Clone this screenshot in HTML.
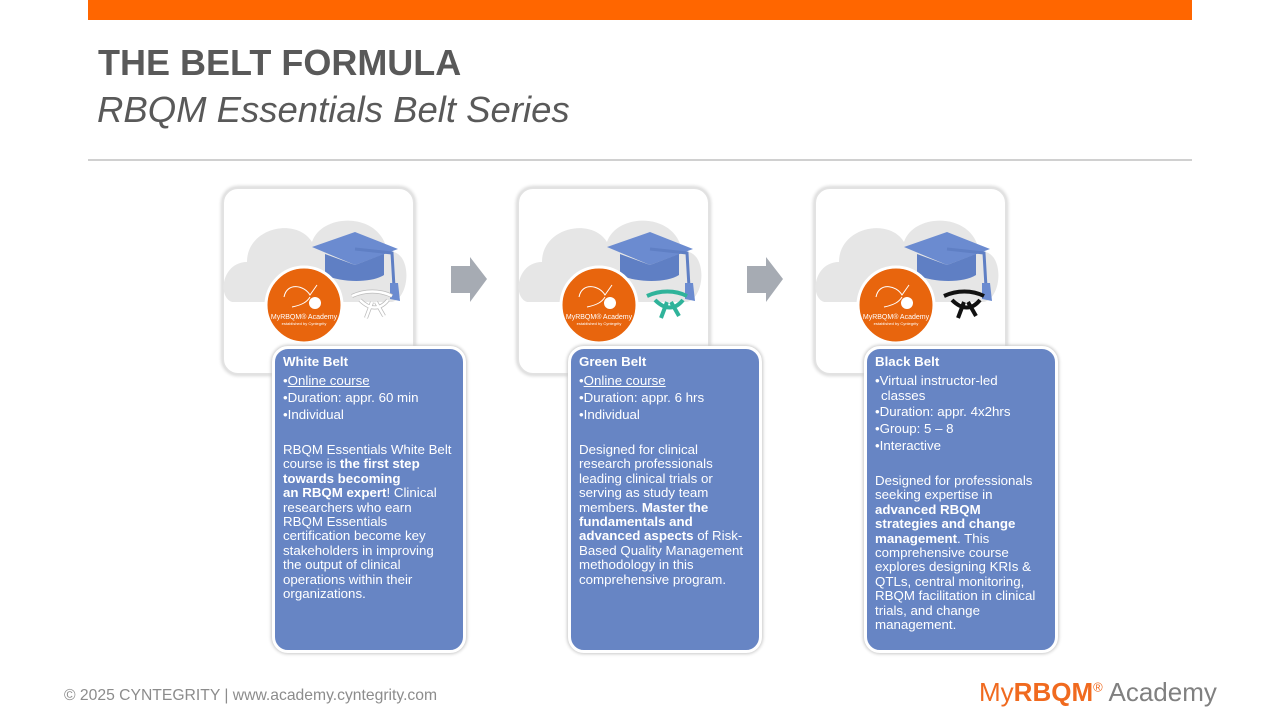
<!DOCTYPE html>
<html><head><meta charset="utf-8"><style>
*{margin:0;padding:0;box-sizing:border-box}
body{width:1280px;height:720px;background:#fff;position:relative;overflow:hidden;font-family:"Liberation Sans",sans-serif}
.bar{position:absolute;left:88px;top:0;width:1104px;height:20px;background:#ff6600}
.t1{position:absolute;left:98px;top:42px;font-size:36px;font-weight:bold;color:#595959;letter-spacing:0px}
.t2{position:absolute;left:97px;top:89px;font-size:36.5px;font-style:italic;color:#595959}
.hr{position:absolute;left:88px;top:159px;width:1104px;height:2px;background:#d0d0d0}
.top{position:absolute;width:193px;height:188px;border-radius:16px;background:#fff;border:2px solid #e2e2e2;box-shadow:0 0 3px 1px #d8d8d8}
.blue{position:absolute;width:194px;height:307px;border-radius:16px;background:#6785c4;border:3px solid #fff;box-shadow:0 0 3px 1px #c8c8c8;color:#fff;font-size:13.3px;padding:4px 0 0 8px}
.blue h4{font-size:13.3px;font-weight:bold;line-height:18px;margin-bottom:1px}
.blue .b{line-height:17px;white-space:nowrap}
.blue .p{line-height:14.4px;white-space:nowrap;margin-top:20px}
.foot{position:absolute;left:64px;top:687px;font-size:15.7px;color:#8c8c8c}
.logo{position:absolute;left:979px;top:677px;font-size:26px;color:#808080;white-space:nowrap}
.logo span{color:#f06a1f}
</style></head><body>
<div class="bar"></div>
<div class="t1">THE BELT FORMULA</div>
<div class="t2">RBQM Essentials Belt Series</div>
<div class="hr"></div>

<div class="top" style="left:222px;top:187px"></div>
<div class="top" style="left:517px;top:187px"></div>
<div class="top" style="left:814px;top:187px"></div>

<svg width="1280" height="720" style="position:absolute;left:0;top:0">
<defs>
<g id="ic">
<path d="M10 115 C-5 110 0 75 25 75 C25 40 75 30 90 55 C100 25 160 25 165 65 C190 60 190 110 170 115 Z" fill="#e6e6e6"/>
<polygon points="90,60 133,45 176,62 133,78" fill="#6b8bd0"/>
<path d="M103 67 L103 88 C120 96 150 96 162 88 L162 67 L133 78 Z" fill="#5f7fc4"/>
<path d="M133 62 L170 66 L172 100" stroke="#5f7fc4" stroke-width="3" fill="none"/>
<polygon points="168,96 176,96 178,114 168,112" fill="#6b8bd0"/>
<circle cx="82" cy="118" r="38" fill="#e8650d" stroke="#fff" stroke-width="3"/>
<path d="M62 110 C65 95 82 98 88 108 L95 98 M70 120 C80 118 85 115 88 110" stroke="#fff" stroke-width="1" fill="none"/>
<circle cx="93" cy="116" r="6" fill="#fff"/>
<text x="82" y="132" font-size="7" fill="#fff" text-anchor="middle" font-family="Liberation Sans">MyRBQM® Academy</text>
<text x="82" y="138" font-size="4" fill="#fff" text-anchor="middle" font-family="Liberation Sans">established by Cyntegrity</text>
</g>
</defs>
<use href="#ic" x="222" y="187"/>
<use href="#ic" x="517" y="187"/>
<use href="#ic" x="814" y="187"/>
<g fill="none" stroke-width="4">
<path d="M352 296 C365 290 380 290 392 296 M360 300 C370 310 380 310 388 300 M372 302 L366 318 M376 302 L384 316" stroke="#bbb"/>
<path d="M352 296 C365 290 380 290 392 296 M360 300 C370 310 380 310 388 300 M372 302 L366 318 M376 302 L384 316" stroke="#fff" stroke-width="2.5"/>
<path d="M647 296 C660 290 675 290 687 296 M655 300 C665 310 675 310 683 300 M667 302 L661 318 M671 302 L679 316" stroke="#2fb39a"/>
<path d="M944 296 C957 290 972 290 984 296 M952 300 C962 310 972 310 980 300 M964 302 L958 318 M968 302 L976 316" stroke="#111"/>
</g>
<polygon points="451,266 470,266 470,257 487,279 470,302 470,293 451,293" fill="#a6abb3"/>
<polygon points="747,266 766,266 766,257 783,279 766,302 766,293 747,293" fill="#a6abb3"/>
</svg>

<div class="blue" style="left:272px;top:346px">
<h4>White Belt</h4>
<div class="b">•<u>Online course</u><br>•Duration: appr. 60 min<br>•Individual</div>
<div class="p">RBQM Essentials White Belt<br>course is <b>the first step</b><br><b>towards becoming</b><br><b>an RBQM expert</b>! Clinical<br>researchers who earn<br>RBQM Essentials<br>certification become key<br>stakeholders in improving<br>the output of clinical<br>operations within their<br>organizations.</div>
</div>
<div class="blue" style="left:568px;top:346px">
<h4>Green Belt</h4>
<div class="b">•<u>Online course</u><br>•Duration: appr. 6 hrs<br>•Individual</div>
<div class="p">Designed for clinical<br>research professionals<br>leading clinical trials or<br>serving as study team<br>members. <b>Master the</b><br><b>fundamentals and</b><br><b>advanced aspects</b> of Risk-<br>Based Quality Management<br>methodology in this<br>comprehensive program.</div>
</div>
<div class="blue" style="left:864px;top:346px">
<h4>Black Belt</h4>
<div class="b">•Virtual instructor-led</div><div style="line-height:14px;padding-left:6px">classes</div>
<div class="b">•Duration: appr. 4x2hrs<br>•Group: 5 – 8<br>•Interactive</div>
<div class="p">Designed for professionals<br>seeking expertise in<br><b>advanced RBQM</b><br><b>strategies and change</b><br><b>management</b>. This<br>comprehensive course<br>explores designing KRIs &amp;<br>QTLs, central monitoring,<br>RBQM facilitation in clinical<br>trials, and change<br>management.</div>
</div>

<div class="foot">© 2025 CYNTEGRITY | www.academy.cyntegrity.com</div>
<div class="logo"><span>My<b>RBQM</b><sup style="font-size:13px">®</sup></span> Academy</div>
</body></html>
